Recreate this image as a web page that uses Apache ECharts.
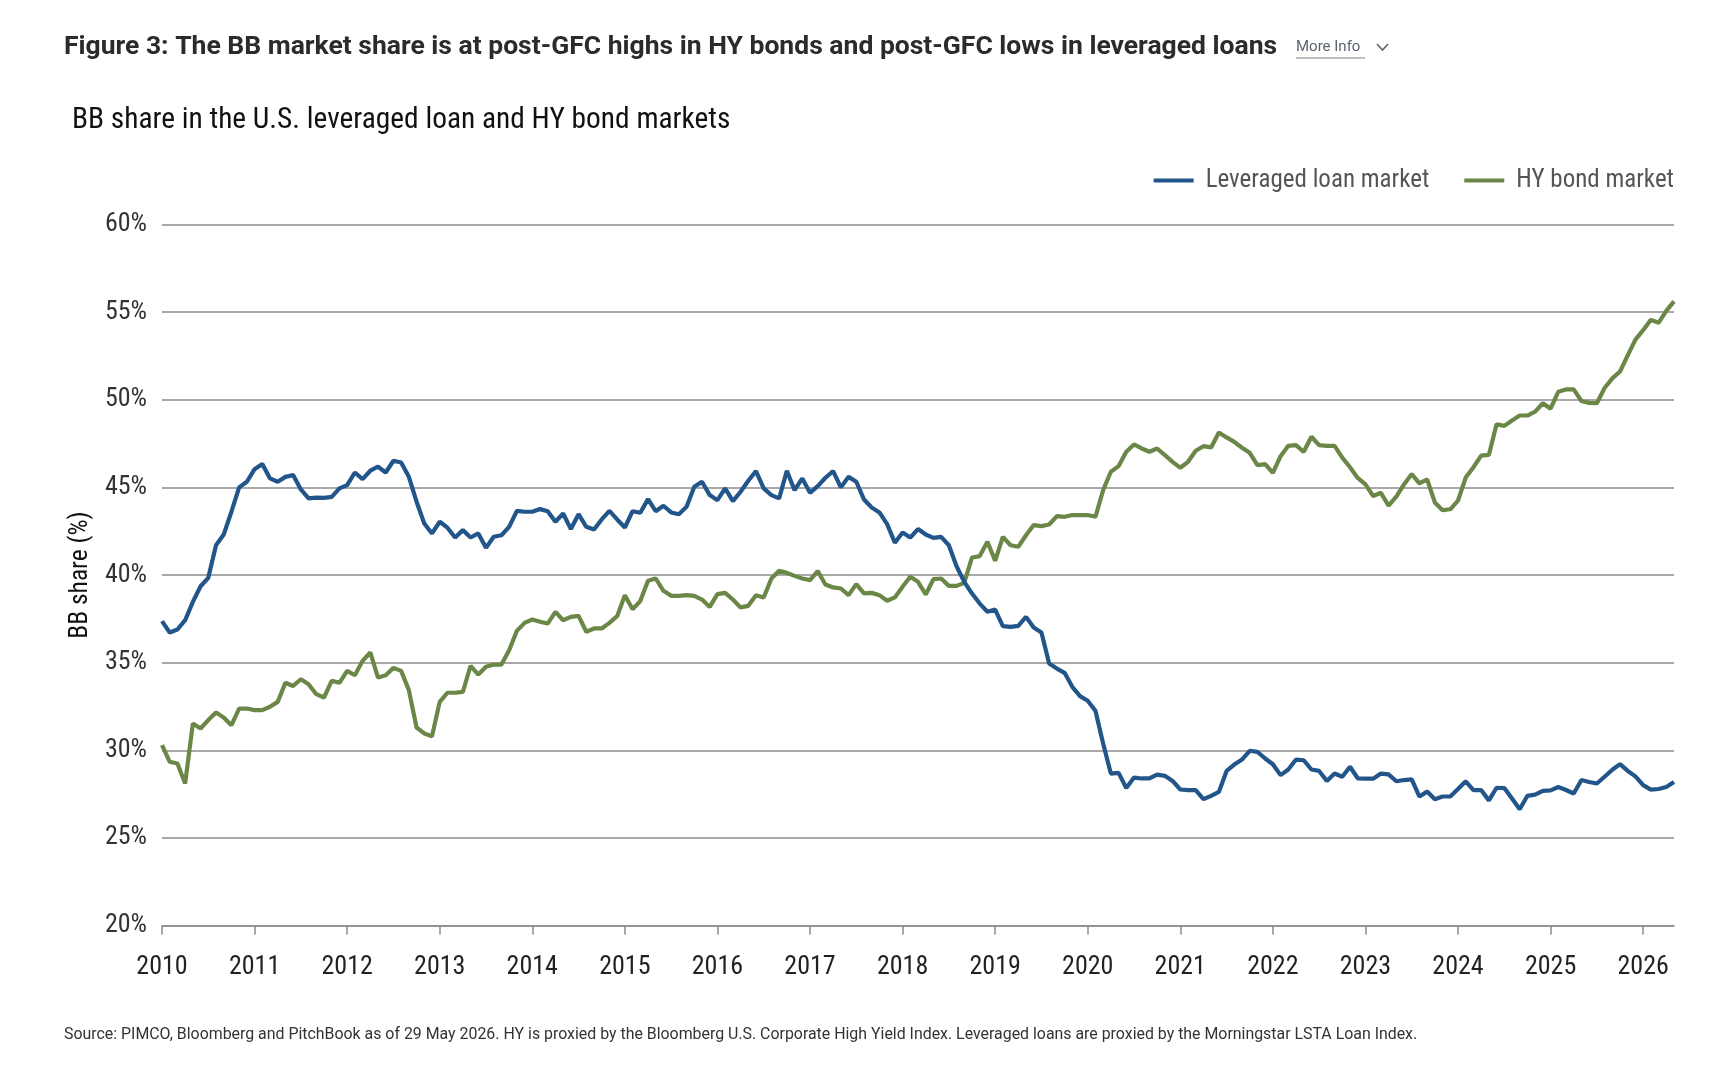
<!DOCTYPE html>
<html>
<head>
<meta charset="utf-8">
<script src="https://cdn.jsdelivr.net/npm/echarts@6/dist/echarts.min.js"></script>
<style>
  html, body { margin: 0; padding: 0; background: #fff; }
  #chart { width: 1734px; height: 1090px; }
</style>
</head>
<body>
<div id="chart"></div>
<script>
// monthly readings, Jan 2010 onwards (percent)
const loanShare = [
  37.37, 36.72, 36.89, 37.42, 38.47, 39.36, 39.84, 41.7, 42.31, 43.61, 45.0, 45.32,
  46.04, 46.33, 45.51, 45.32, 45.6, 45.7, 44.88, 44.37, 44.42, 44.4, 44.46, 44.94,
  45.13, 45.85, 45.47, 45.95, 46.18, 45.85, 46.52, 46.42, 45.6, 44.18, 42.94, 42.37,
  43.04, 42.7, 42.14, 42.56, 42.14, 42.37, 41.55, 42.18, 42.27, 42.75, 43.66, 43.61,
  43.61, 43.76, 43.64, 43.04, 43.51, 42.62, 43.47, 42.75, 42.6, 43.17, 43.66, 43.17,
  42.71, 43.64, 43.55, 44.33, 43.64, 43.95, 43.57, 43.47, 43.89, 45.03, 45.32, 44.56,
  44.27, 44.94, 44.22, 44.75, 45.38, 45.93, 44.94, 44.56, 44.37, 45.95, 44.84, 45.51,
  44.69, 45.07, 45.55, 45.93, 45.0, 45.6, 45.32, 44.31, 43.85, 43.57, 42.9, 41.84,
  42.43, 42.14, 42.62, 42.31, 42.12, 42.18, 41.7, 40.5, 39.61, 38.94, 38.37, 37.9,
  38.03, 37.08, 37.04, 37.1, 37.61, 37.0, 36.72, 34.95, 34.66, 34.42, 33.62, 33.09,
  32.82, 32.25, 30.38, 28.67, 28.71, 27.85, 28.44, 28.39, 28.39, 28.61, 28.54, 28.25,
  27.76, 27.72, 27.72, 27.21, 27.4, 27.62, 28.82, 29.18, 29.47, 29.97, 29.91, 29.53,
  29.2, 28.58, 28.9, 29.47, 29.43, 28.9, 28.82, 28.25, 28.67, 28.49, 29.06, 28.4,
  28.38, 28.38, 28.67, 28.62, 28.23, 28.3, 28.34, 27.36, 27.64, 27.2, 27.36, 27.36,
  27.79, 28.23, 27.73, 27.73, 27.14, 27.86, 27.84, 27.25, 26.63, 27.4, 27.47, 27.68,
  27.71, 27.9, 27.73, 27.53, 28.3, 28.19, 28.1, 28.49, 28.89, 29.21, 28.82, 28.51,
  28.01, 27.75, 27.79, 27.9, 28.19
];

const hyShare = [
  30.29, 29.34, 29.24, 28.1, 31.53, 31.24, 31.72, 32.15, 31.87, 31.43, 32.38, 32.38,
  32.29, 32.29, 32.48, 32.76, 33.85, 33.67, 34.05, 33.77, 33.2, 33.01, 33.96, 33.85,
  34.53, 34.28, 35.1, 35.58, 34.15, 34.28, 34.7, 34.53, 33.43, 31.3, 30.96, 30.8,
  32.76, 33.28, 33.28, 33.33, 34.82, 34.32, 34.76, 34.89, 34.89, 35.71, 36.81, 37.27,
  37.46, 37.33, 37.23, 37.9, 37.42, 37.61, 37.67, 36.76, 36.95, 36.95, 37.27, 37.65,
  38.85, 38.05, 38.51, 39.67, 39.8, 39.1, 38.81, 38.81, 38.85, 38.81, 38.6, 38.18,
  38.91, 38.98, 38.6, 38.15, 38.24, 38.85, 38.72, 39.8, 40.24, 40.12, 39.95, 39.8,
  39.71, 40.22, 39.46, 39.29, 39.23, 38.85, 39.48, 38.95, 38.98, 38.85, 38.53, 38.72,
  39.33, 39.9, 39.61, 38.89, 39.76, 39.8, 39.38, 39.38, 39.55, 41.0, 41.08, 41.9,
  40.81, 42.18, 41.7, 41.61, 42.27, 42.85, 42.79, 42.88, 43.36, 43.32, 43.42, 43.42,
  43.42, 43.32, 44.84, 45.89, 46.21, 47.03, 47.45, 47.22, 47.03, 47.22, 46.84, 46.46,
  46.12, 46.46, 47.09, 47.35, 47.28, 48.13, 47.85, 47.6, 47.26, 46.97, 46.27, 46.33,
  45.83, 46.78, 47.37, 47.41, 47.03, 47.89, 47.41, 47.37, 47.37, 46.7, 46.15, 45.54,
  45.17, 44.51, 44.69, 43.96, 44.47, 45.17, 45.76, 45.23, 45.45, 44.14, 43.7, 43.75,
  44.25, 45.56, 46.15, 46.81, 46.85, 48.6, 48.51, 48.82, 49.1, 49.1, 49.32, 49.8,
  49.49, 50.45, 50.59, 50.59, 49.93, 49.82, 49.8, 50.67, 51.22, 51.61, 52.53, 53.43,
  53.97, 54.56, 54.39, 55.07, 55.61
];

const yearTicks = [2010, 2011, 2012, 2013, 2014, 2015, 2016, 2017, 2018,
  2019, 2020, 2021, 2022, 2023, 2024, 2025, 2026];

const seriesNames = ["Leveraged loan market", "HY bond market"];

// x position of each reading as a decimal year
const months = loanShare.map((v, i) => 2010 + i / 12);

const gridGrey = "#8c8c8c";
// condensed Roboto: font-stretch rides along in the weight slot of the canvas font string
const narrowText = { fontFamily: "Roboto", fontStyle: "normal", fontWeight: "condensed" };

function narrow(extra) {
  return Object.assign({}, narrowText, extra);
}

const chart = echarts.init(document.getElementById("chart"), null, { renderer: "canvas" });

const option = {
  backgroundColor: "#ffffff",
  animation: false,
  title: [
    {
      text: "Figure 3: The BB market share is at post-GFC highs in HY bonds and post-GFC lows in leveraged loans",
      left: 59,
      top: 29,
      textStyle: { fontFamily: "Roboto", fontWeight: "bold", fontSize: 26.5, color: "#2b2b2b" }
    },
    {
      text: "BB share in the U.S. leveraged loan and HY bond markets",
      left: 67,
      top: 101,
      textStyle: narrow({ fontSize: 29.4, color: "#111" })
    },
    {
      text: "Source: PIMCO, Bloomberg and PitchBook as of 29 May 2026. HY is proxied by the Bloomberg U.S. Corporate High Yield Index. Leveraged loans are proxied by the Morningstar LSTA Loan Index.",
      left: 59,
      top: 1022,
      textStyle: { fontFamily: "Roboto", fontWeight: "normal", fontSize: 15.9, color: "#333" }
    }
  ],
  graphic: [
    {
      type: "text",
      left: 1296,
      top: 40,
      style: { text: "More Info", fontFamily: "Roboto", fontSize: 15, fill: "#5a6470" }
    },
    {
      type: "line",
      shape: { x1: 1296, y1: 58, x2: 1365, y2: 58 },
      style: { stroke: "#7a838c", lineWidth: 1 }
    },
    {
      type: "polyline",
      shape: { points: [[1377, 44], [1382.5, 50], [1388, 44]] },
      style: { stroke: "#5a6470", lineWidth: 1.6, fill: null }
    }
  ],
  legend: {
    right: 60,
    top: 168,
    padding: 0,
    icon: "rect",
    itemWidth: 40,
    itemHeight: 4,
    itemGap: 35,
    textStyle: narrow({ fontSize: 25, color: "#555", padding: [0, 0, 0, 7] }),
    data: seriesNames
  },
  grid: { left: 162, right: 60, top: 224.5, bottom: 164.5 },
  xAxis: {
    type: "value",
    min: 2010,
    max: months[months.length - 1],
    axisLine: { lineStyle: { color: gridGrey, width: 1.5 } },
    axisTick: { customValues: yearTicks, length: 9, lineStyle: { color: gridGrey, width: 1.5 } },
    axisLabel: narrow({
      customValues: yearTicks,
      formatter: (v) => String(v),
      margin: 29,
      fontSize: 26,
      color: "#222"
    }),
    splitLine: { show: false }
  },
  yAxis: {
    type: "value",
    min: 20,
    max: 60,
    interval: 5,
    name: "BB share (%)",
    nameLocation: "middle",
    nameGap: 66,
    nameTextStyle: narrow({ fontSize: 25.5, color: "#111" }),
    axisLine: { show: false },
    axisTick: { show: false },
    axisLabel: narrow({ formatter: "{value}%", margin: 15, fontSize: 26, color: "#333" }),
    splitLine: { lineStyle: { color: gridGrey, width: 1.5 } }
  },
  series: [
    {
      name: seriesNames[0],
      type: "line",
      data: months.map((m, i) => [m, loanShare[i]]),
      showSymbol: false,
      lineStyle: { color: "#22558a", width: 4.2 },
      itemStyle: { color: "#22558a" },
      z: 3
    },
    {
      name: seriesNames[1],
      type: "line",
      data: months.map((m, i) => [m, hyShare[i]]),
      showSymbol: false,
      lineStyle: { color: "#6b8747", width: 4.2 },
      itemStyle: { color: "#6b8747" },
      z: 2
    }
  ]
};

chart.setOption(option);
</script>
</body>
</html>
